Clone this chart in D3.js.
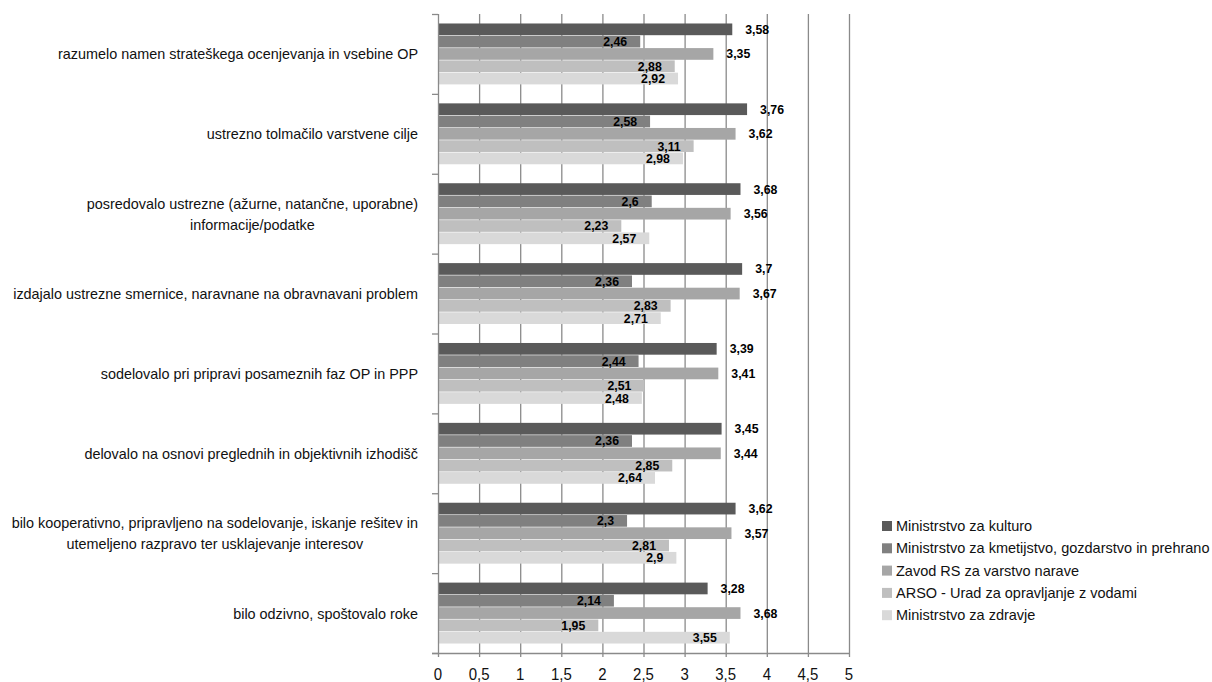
<!DOCTYPE html>
<html>
<head>
<meta charset="utf-8">
<script src="https://cdn.jsdelivr.net/npm/d3@7"></script>
<style>
  html, body { margin: 0; padding: 0; background: #fff; }
  svg { display: block; }
</style>
</head>
<body>
<svg id="chart" width="1212" height="682"></svg>
<script>
// Survey statements (each entry is a list of lines for the category label)
const categories = [
  ["razumelo namen strateškega ocenjevanja in vsebine OP"],
  ["ustrezno tolmačilo varstvene cilje"],
  ["posredovalo ustrezne (ažurne, natančne, uporabne)", "informacije/podatke"],
  ["izdajalo ustrezne smernice, naravnane na obravnavani problem"],
  ["sodelovalo pri pripravi posameznih faz OP in PPP"],
  ["delovalo na osnovi preglednih in objektivnih izhodišč"],
  ["bilo kooperativno, pripravljeno na sodelovanje, iskanje rešitev in", "utemeljeno razpravo ter usklajevanje interesov"],
  ["bilo odzivno, spoštovalo roke"]
];

const seriesNames = [
  "Ministrstvo za kulturo",
  "Ministrstvo za kmetijstvo, gozdarstvo in prehrano",
  "Zavod RS za varstvo narave",
  "ARSO - Urad za opravljanje z vodami",
  "Ministrstvo za zdravje"
];

// Average scores per institution, one array per series, in category order
const kultura    = [3.58, 3.76, 3.68, 3.70, 3.39, 3.45, 3.62, 3.28];
const kmetijstvo = [2.46, 2.58, 2.60, 2.36, 2.44, 2.36, 2.30, 2.14];
const zavod      = [3.35, 3.62, 3.56, 3.67, 3.41, 3.44, 3.57, 3.68];
const arso       = [2.88, 3.11, 2.23, 2.83, 2.51, 2.85, 2.81, 1.95];
const zdravje    = [2.92, 2.98, 2.57, 2.71, 2.48, 2.64, 2.90, 3.55];

const seriesValues = [kultura, kmetijstvo, zavod, arso, zdravje];

const xTicks = [0, 0.5, 1, 1.5, 2, 2.5, 3, 3.5, 4, 4.5, 5];
const xTickLabels = ["0", "0,5", "1", "1,5", "2", "2,5", "3", "3,5", "4", "4,5", "5"];

const colors = ["#5a5a5a", "#808080", "#a6a6a6", "#bfbfbf", "#d9d9d9"];
// value labels: series drawn with the label past the bar end, others just inside it
const labelOutside = [true, false, true, false, false];

(function draw() {
  const svg = d3.select("#chart");
  const pLeft = 438, pRight = 849, pTop = 14, pBottom = 653;

  const x = d3.scaleLinear().domain([0, 5]).range([pLeft, pRight]);
  const y = d3.scaleBand().domain(d3.range(categories.length))
    .range([pTop, pBottom]).paddingInner(0.23).paddingOuter(0.115);
  const ySub = d3.scaleBand().domain(d3.range(seriesNames.length))
    .range([0, y.bandwidth()]);

  const gridColor = "#8a8a8a";
  const font = "'Liberation Sans', Arial, Helvetica, sans-serif";

  // vertical gridlines (with small ticks below the axis)
  svg.append("g").selectAll("line").data(xTicks.slice(1)).join("line")
    .attr("x1", d => x(d) + 0.5).attr("x2", d => x(d) + 0.5)
    .attr("y1", pTop).attr("y2", pBottom + 4)
    .attr("stroke", gridColor).attr("stroke-width", 1.3);

  // bars
  const groups = svg.append("g").selectAll("g").data(categories).join("g")
    .attr("transform", (d, i) => `translate(0,${y(i)})`);

  groups.each(function(_, ci) {
    const g = d3.select(this);
    seriesValues.forEach((vals, si) => {
      g.append("rect")
        .attr("x", x(0))
        .attr("y", ySub(si) + 0.3)
        .attr("width", x(vals[ci]) - x(0))
        .attr("height", ySub.bandwidth() - 0.6)
        .attr("fill", colors[si]);
    });
  });

  // left axis line with tick marks at category boundaries
  const yAxis = svg.append("g");
  yAxis.append("line")
    .attr("x1", pLeft + 0.5).attr("x2", pLeft + 0.5)
    .attr("y1", pTop).attr("y2", pBottom + 4)
    .attr("stroke", gridColor).attr("stroke-width", 1.3);
  const step = y.step();
  yAxis.selectAll("line.tick").data(d3.range(categories.length + 1)).join("line")
    .attr("class", "tick")
    .attr("x1", pLeft - 6).attr("x2", pLeft)
    .attr("y1", i => pTop + i * step + 0.5).attr("y2", i => pTop + i * step + 0.5)
    .attr("stroke", gridColor).attr("stroke-width", 1.3);

  // bottom axis line
  svg.append("line")
    .attr("x1", pLeft - 6).attr("x2", pRight + 1)
    .attr("y1", pBottom + 0.5).attr("y2", pBottom + 0.5)
    .attr("stroke", gridColor).attr("stroke-width", 1.3);

  // x tick labels (slightly tall glyphs)
  svg.append("g").selectAll("text").data(xTicks).join("text")
    .attr("transform", d => `translate(${x(d)},680) scale(1,1.1)`)
    .attr("text-anchor", "middle")
    .attr("font-family", font).attr("font-size", 15)
    .attr("fill", "#111")
    .text((d, i) => xTickLabels[i]);

  // value labels
  groups.each(function(_, ci) {
    const g = d3.select(this);
    seriesValues.forEach((vals, si) => {
      const v = vals[ci];
      const out = labelOutside[si];
      g.append("text")
        .attr("x", out ? x(v) + 13 : x(v) - 13)
        .attr("y", ySub(si) + ySub.bandwidth() / 2 + 4.5)
        .attr("text-anchor", out ? "start" : "end")
        .attr("font-family", font).attr("font-weight", "bold")
        .attr("font-size", 12.3).attr("fill", "#000")
        .text(String(v).replace(".", ","));
    });
  });

  // category labels: blocks right-aligned to the axis, lines centred within a block
  const catG = svg.append("g");
  const labelRight = 418;
  categories.forEach((lines, ci) => {
    const cy = y(ci) + y.bandwidth() / 2;
    const lh = 21;
    const texts = lines.map((line, li) => catG.append("text")
      .attr("y", cy + (li - (lines.length - 1) / 2) * lh + 5.5)
      .attr("text-anchor", "middle")
      .attr("font-family", font).attr("font-size", 14.4)
      .attr("fill", "#111")
      .text(line));
    const maxW = d3.max(texts, t => t.node().getComputedTextLength());
    texts.forEach(t => t.attr("x", labelRight - maxW / 2));
  });

  // legend
  const legend = svg.append("g");
  seriesNames.forEach((name, si) => {
    const ly = 526 + si * 22.3;
    legend.append("rect")
      .attr("x", 882).attr("y", ly - 5).attr("width", 10).attr("height", 10)
      .attr("fill", colors[si]);
    legend.append("text")
      .attr("x", 896).attr("y", ly + 5)
      .attr("font-family", font).attr("font-size", 14.5)
      .attr("fill", "#111")
      .text(name);
  });
})();
</script>
</body>
</html>
